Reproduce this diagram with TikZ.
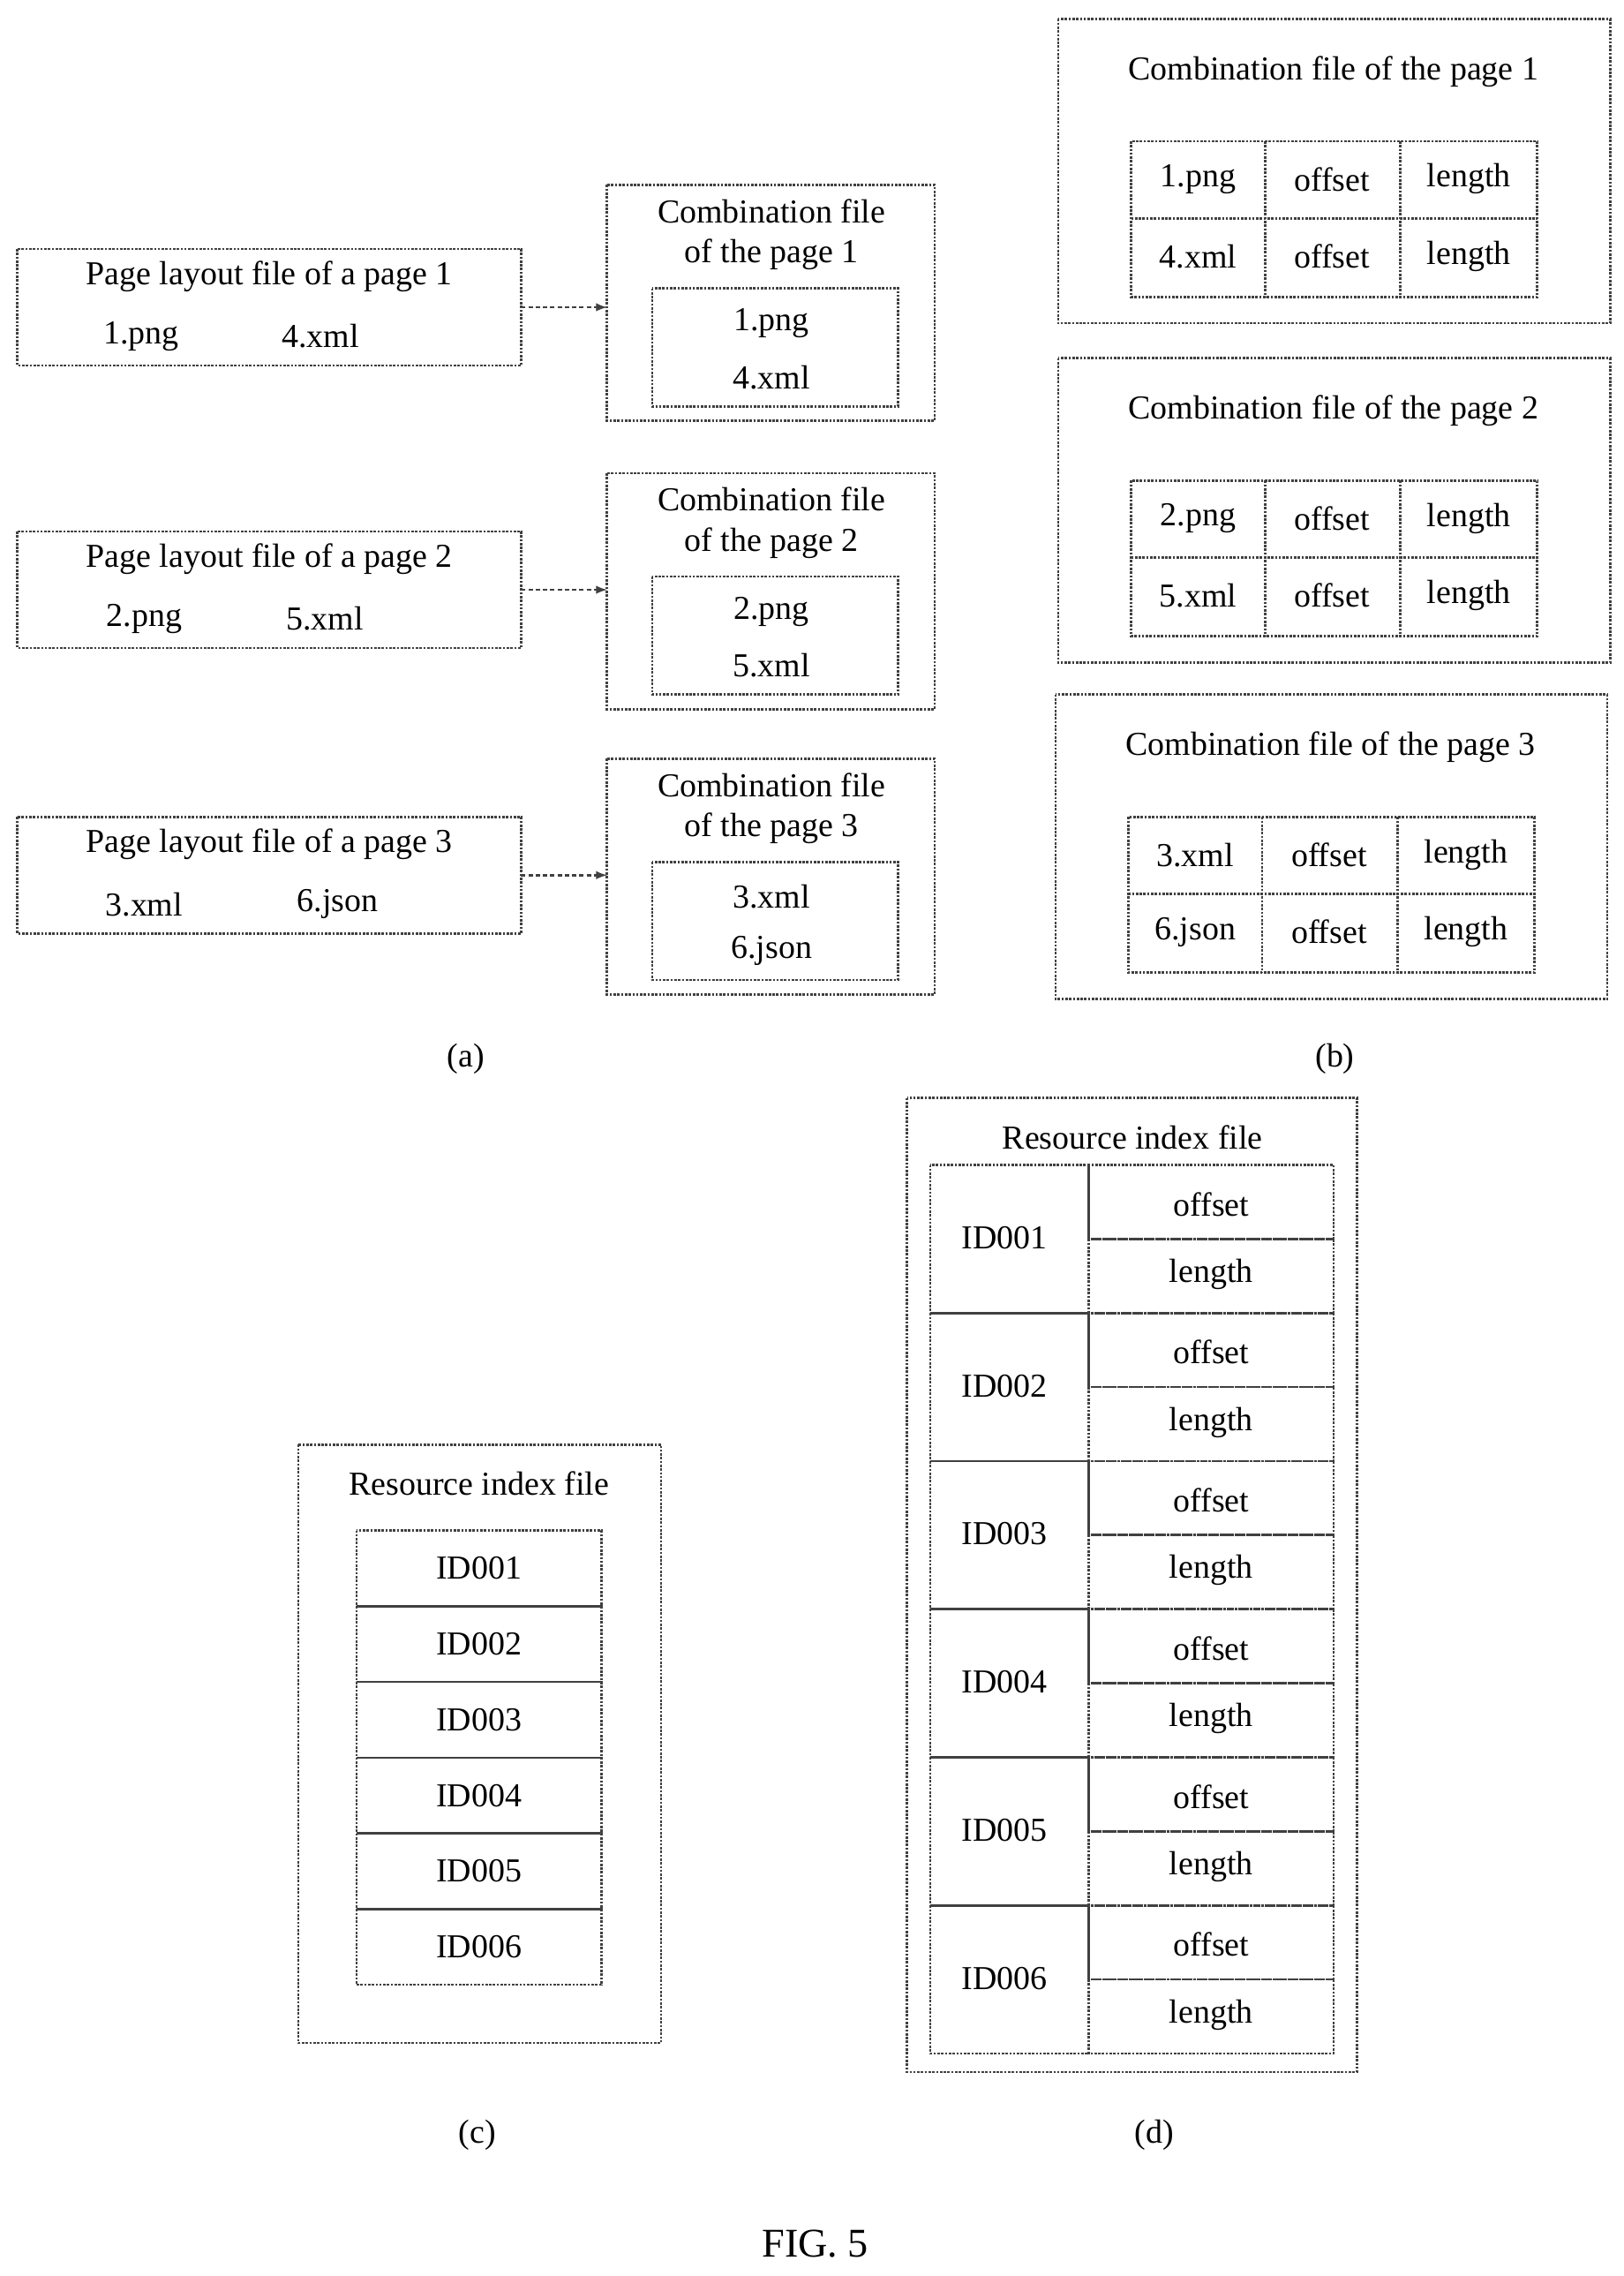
\documentclass[tikz,border=0pt]{standalone}
\usepackage{fontspec}
\setmainfont{Liberation Serif}
\begin{document}
\begin{tikzpicture}[x=1pt,y=-1pt,
 bx/.style={draw=black!75,line width=1.6pt,densely dotted},
 t/.style={font=\fontsize{23}{26}\selectfont,inner sep=0pt},
 ar/.style={draw=black!75,line width=1.6pt,densely dashed,-latex}]
\useasboundingbox (0,0) rectangle (1115,1563);
% (a)
\foreach \y/\n/\a/\b/\xa/\xb in {171/1/1.png/4.xml/97/220,365/2/2.png/5.xml/99/223,561/3/3.xml/6.json/99/232}{
 \draw[bx] (12,\y) rectangle (358,\y+80);
 \node[t] (pl\n) at (185,\y+19) {Page layout file of a page \n};
 \node[t] at (\xa,\y+60) {\a};
 \node[t] at (\xb,\y+60) {\b};
 \coordinate (pr\n) at (358,\y+40);
}
\foreach \y/\n/\a/\b in {127/1/1.png/4.xml,325/2/2.png/5.xml,521/3/3.xml/6.json}{
 \draw[bx] (417,\y) rectangle (642,\y+162);
 \draw[bx] (448,\y+71) rectangle (617,\y+152);
 \node[t] at (530,\y+18) {Combination file};
 \node[t] at (530,\y+48) {of the page \n};
 \node[t] at (530,\y+95) {\a};
 \node[t] at (530,\y+132) {\b};
 \coordinate (cl\n) at (417,\y+84);
}
\draw[ar] (pr1) -- (417,211);
\draw[ar] (pr2) -- (417,405);
\draw[ar] (pr3) -- (417,601);
\node[t] at (320,727) {(a)};
% (b)
\foreach \x/\y/\n/\a/\b in {727/13/1/1.png/4.xml,727/246/2/2.png/5.xml,725/477/3/3.xml/6.json}{
 \draw[bx] (\x,\y) rectangle (\x+379,\y+209);
 \node[t] at (\x+189,\y+36) {Combination file of the page \n};
 \draw[bx] (\x+50,\y+84) rectangle (\x+329,\y+191);
 \draw[bx] (\x+50,\y+137) -- (\x+329,\y+137);
 \draw[bx] (\x+142,\y+84) -- (\x+142,\y+191);
 \draw[bx] (\x+235,\y+84) -- (\x+235,\y+191);
 \node[t] at (\x+96,\y+110) {\a};
 \node[t] at (\x+96,\y+163) {\b};
 \node[t] at (\x+188,\y+110) {offset};
 \node[t] at (\x+188,\y+163) {offset};
 \node[t] at (\x+282,\y+110) {length};
 \node[t] at (\x+282,\y+163) {length};
}
\node[t] at (917,727) {(b)};
% (c)
\draw[bx] (205,992) rectangle (454,1403);
\node[t] at (329,1019) {Resource index file};
\foreach \i in {1,...,6}{
 \draw[bx] (245,1051+52*\i-52) rectangle (413,1051+52*\i);
 \node[t] at (329,1077+52*\i-52) {ID00\i};
}
\node[t] at (328,1466) {(c)};
% (d)
\draw[bx] (623,754) rectangle (932,1423);
\node[t] at (778,781) {Resource index file};
\foreach \i in {1,...,6}{
 \pgfmathsetmacro\ya{800+101.7*(\i-1)}
 \draw[bx] (639,\ya) rectangle (748,\ya+101.7);
 \draw[bx] (748,\ya) rectangle (916,\ya+50.8);
 \draw[bx] (748,\ya+50.8) rectangle (916,\ya+101.7);
 \node[t] at (690,\ya+50) {ID00\i};
 \node[t] at (832,\ya+27) {offset};
 \node[t] at (832,\ya+75) {length};
}
\node[t] at (793,1466) {(d)};
\node[t,font=\fontsize{28}{32}\selectfont] at (560,1541) {FIG. 5};
\end{tikzpicture}
\end{document}
